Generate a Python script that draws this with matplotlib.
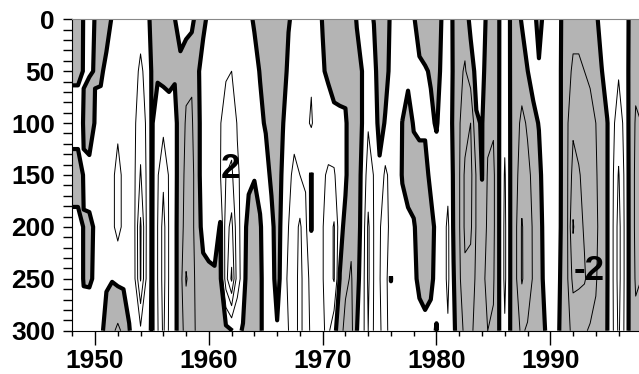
import numpy as np
import matplotlib
matplotlib.use("Agg")
import matplotlib.pyplot as plt

plt.rcParams['font.family'] = ['Liberation Sans', 'DejaVu Sans']

# time axis (half-year nodes) and depth levels
years = np.arange(1948.0, 1998.01, 0.5)
depths = [0, 50, 100, 150, 200, 250, 300]

# anomaly values, one list per depth level
anom_0 = [-1.0, -1.0, 0.1, 0.8, -0.1, -1.0, -0.5, 0.1, 0.5, 0.5,
          0.3, 0.4, 0.6, 0.4, -0.3, -1.0, -0.8, -0.8, -0.05, 0.8,
          0.5, 0.3, -0.5, -0.3, 0.3, 0.5, 0.5, 0.5, 0.4, 0.3,
          0.3, 0.2, -0.1, -0.7, -0.8, -0.9, -0.9, -0.8, -0.1, 0.3,
          0.3, 0.3, 0.4, 0.3, -0.05, -0.6, -0.8, -0.9, -0.9, -0.8,
          0.1, 0.4, 0.5, -0.05, -0.9, -0.6, 0.2, 0.4, 0.3, 0.3,
          0.1, -0.5, -0.8, -0.8, -0.6, 0.1, 0.4, -0.1, -0.5, -0.6,
          0.3, 0.6, 0.5, -0.3, -0.6, -0.02, 0.5, -0.05, -0.5, 0.1,
          0.5, 0.6, -0.6, 0.5, 0.6, 0.5, -0.05, -0.6, -0.8, -0.8,
          -0.7, -0.6, -0.2, 0.4, 0.5, 0.4, 0.4, 0.3, -0.1, -0.6,
          -0.6]
anom_50 = [-0.3, -0.3, 0.05, 0.1, -0.05, -0.2, 0.3, 0.5, 0.5, 0.5,
           0.5, 0.7, 1.2, 0.7, -0.1, -0.2, -0.3, -0.4, -0.1, -0.5,
           -0.8, -0.9, -0.2, 0.5, 0.6, 0.8, 0.8, 0.9, 1.0, 0.7,
           0.6, 0.4, 0.3, -0.05, -0.7, -0.8, -0.8, -0.6, 0.3, 0.5,
           0.5, 0.6, 0.9, 0.5, 0.1, -0.2, -0.6, -0.6, -0.5, -0.8,
           -0.5, 0.05, 0.6, 0.5, -0.8, -0.4, 0.3, 0.5, 0.4, 0.3,
           0.1, 0.2, 0.1, -0.1, -0.5, 0.3, 0.5, -0.1, -0.8, -1.1,
           -0.5, 0.3, 0.3, -0.5, -0.8, -0.02, 0.6, -0.05, -0.6, -0.6,
           -0.02, 0.4, 0.2, 0.6, 0.8, 0.6, -0.1, -0.8, -1.1, -1.1,
           -1.0, -0.9, -0.8, -0.05, 0.5, 0.6, 0.9, 0.5, -0.2, -0.8,
           -0.8]
anom_100 = [0.8, 0.8, -0.1, -0.8, 0.1, 0.5, 0.5, 0.6, 0.8, 0.6,
            0.8, 0.9, 1.6, 0.9, -0.1, 0.7, 0.7, 0.6, 0.3, -0.5,
            -1.1, -1.1, -0.4, 0.6, 0.8, 0.9, 0.95, 1.4, 1.5, 0.95,
            0.8, 0.5, 0.3, 0.2, -0.1, -0.6, -0.7, -0.05, 0.6, 0.7,
            0.7, 0.8, 1.1, 0.6, 0.5, 0.6, 0.4, 0.3, 0.2, -0.8,
            -0.5, 0.05, 0.9, 0.8, -0.5, 0.1, 0.5, 0.6, -0.02, -0.5,
            0.1, 0.3, 0.2, 0.2, -0.1, 0.5, 0.6, -0.2, -0.9, -1.6,
            -2.0, -0.1, 0.05, -0.8, -0.9, -0.02, 0.8, -0.05, -0.7, -1.2,
            -0.9, -0.3, 0.05, 0.6, 0.9, 0.6, -0.1, -0.9, -1.8, -1.6,
            -1.3, -1.2, -1.0, -0.5, -0.05, 0.8, 1.5, 0.8, -0.3, -1.1,
            -1.0]
anom_150 = [-0.8, -0.8, 0.1, 0.5, 0.3, 0.5, 0.8, 0.8, 1.3, 0.8,
            0.8, 0.95, 2.1, 0.95, -0.1, 0.9, 1.8, 0.9, 0.3, -0.5,
            -1.3, -1.3, -0.4, 0.6, 0.9, 0.95, 0.95, 2.0, 2.2, 1.1,
            0.8, 0.3, 0.1, 0.3, 0.4, -0.2, -0.6, 0.2, 0.8, 1.2,
            1.0, 0.9, -0.05, 0.8, 0.9, 1.1, 1.1, 0.5, 0.2, -0.8,
            -0.4, 0.2, 1.5, 0.95, 0.3, 1.2, 0.7, 0.8, -0.1, -0.5,
            -0.5, -0.6, -0.4, 0.3, 0.5, 0.5, 0.7, -0.1, -0.9, -2.2,
            -2.3, -0.9, 0.03, -1.1, -1.2, -0.02, 1.1, -0.05, -0.8, -1.5,
            -1.2, -0.8, -0.3, 0.5, 0.9, 0.6, -0.1, -0.9, -2.4, -2.1,
            -1.7, -1.4, -1.1, -0.6, -0.05, 0.9, 2.1, 0.9, -0.3, -1.2,
            -1.0]
anom_200 = [0.5, 0.5, -0.05, -0.2, 0.1, 0.5, 0.8, 0.8, 1.3, 0.8,
            0.8, 1.0, 3.2, 1.0, -0.1, 1.0, 2.4, 0.9, 0.3, -0.6,
            -1.4, -1.3, -0.4, 0.3, 0.6, 0.6, -0.1, 2.6, 3.3, 1.3,
            0.6, -0.5, -0.8, -0.1, 0.5, 0.3, -0.5, 0.4, 1.0, 1.5,
            2.2, 1.2, -0.05, 0.9, 0.95, 1.5, 2.1, 0.4, -0.3, -0.8,
            -0.4, 0.3, 2.2, 0.95, 0.9, 1.5, 0.6, 0.9, 0.5, 0.3,
            0.1, -0.4, -0.6, -0.4, 0.3, 0.5, 1.2, -0.1, -0.9, -2.2,
            -2.2, -0.9, -0.3, -1.2, -1.2, -0.02, 1.2, -0.05, -0.9, -2.1,
            -1.4, -0.9, -0.4, 0.3, 0.8, 0.5, -0.1, -0.9, -3.1, -2.3,
            -1.9, -1.5, -1.2, -0.6, -0.05, 0.95, 2.4, 0.95, -0.3, -1.2,
            -1.0]
anom_250 = [0.5, 0.5, -0.05, -0.1, 0.1, 0.3, 0.1, 0.05, 0.2, 0.2,
            0.3, 0.95, 3.1, 0.95, -0.1, 1.0, 2.4, 0.9, 0.3, -0.6,
            -2.1, -1.5, -0.5, -0.3, -0.3, -0.2, -0.3, 2.6, 4.2, 1.4,
            0.6, -0.8, -0.9, -0.2, 0.5, 0.4, -0.4, 0.5, 1.2, 1.6,
            2.3, 1.5, 0.6, 1.0, 0.95, 1.5, 2.1, -0.05, -0.8, -1.1,
            -0.3, 0.5, 2.2, 0.95, 0.95, 1.5, -0.03, 0.9, 0.7, 0.6,
            0.3, -0.3, -0.6, -0.2, 0.3, 0.5, 1.2, 0.05, -0.8, -1.8,
            -1.6, -0.8, -0.8, -1.2, -1.1, -0.02, 1.2, -0.05, -0.9, -2.1,
            -1.5, -0.9, -0.4, 0.2, 0.7, 0.5, -0.2, -0.9, -2.3, -2.2,
            -2.1, -1.6, -1.1, -0.5, -0.05, 0.95, 2.4, 0.95, -0.3, -1.1,
            -1.0]
anom_300 = [0.3, 0.3, 0.3, 0.5, 0.3, 0.2, -0.3, -0.8, -1.2, -0.8,
            -0.05, 0.4, 0.8, 0.4, -0.1, 0.9, 2.2, 0.85, 0.3, -0.6,
            -1.4, -1.3, -0.8, -0.8, -0.8, -0.6, -0.6, -0.3, -0.05, 0.3,
            -0.1, -0.9, -0.9, -0.2, 0.5, 0.4, 0.1, 0.5, 1.0, 1.6,
            2.3, 1.5, 0.8, 0.9, 0.9, 1.2, 0.3, -0.6, -1.3, -1.3,
            -0.02, 0.6, 2.0, 0.9, 0.9, 1.3, 0.6, 0.8, 0.6, 0.6,
            0.5, 0.5, 0.4, 0.3, -0.05, 0.5, 0.9, 0.2, -0.6, -1.2,
            -1.2, -0.7, -0.8, -1.0, -0.9, -0.02, 0.9, -0.05, -0.8, -1.1,
            -0.9, -0.8, -0.5, -0.05, 0.5, 0.4, -0.3, -0.8, -1.2, -1.2,
            -1.1, -0.9, -0.8, -0.4, -0.02, 0.9, 2.2, 0.9, -0.3, -0.8,
            -0.8]

field = np.array([anom_0, anom_50, anom_100, anom_150,
                  anom_200, anom_250, anom_300])

fig = plt.figure(figsize=(6.39, 3.74), dpi=100)
ax = fig.add_axes([0.1131, 0.1158, 0.8906, 0.8326])

# negative anomalies shaded grey
ax.contourf(years, depths, field, levels=[-10, 0], colors=['#b4b4b4'])
ax.contour(years, depths, field, levels=[-3, -2, -1, 1, 2, 3, 4],
           colors='black', linewidths=0.7, linestyles='solid')
ax.contour(years, depths, field, levels=[0], colors='black',
           linewidths=3, linestyles='solid')

ax.text(1961.9, 144, '2', fontsize=25, fontweight='bold',
        ha='center', va='center')
ax.text(1993.4, 242, '-2', fontsize=25, fontweight='bold',
        ha='center', va='center')

ax.set_xlim(1948, 1998)
ax.set_ylim(300, 0)
ax.set_xticks(np.arange(1950, 1991, 10))
ax.set_xticks(np.arange(1948, 1999, 2), minor=True)
ax.set_yticks(np.arange(0, 301, 50))
ax.set_yticks(np.arange(0, 301, 10), minor=True)

ax.tick_params(axis='both', which='both', direction='out', width=1)
ax.tick_params(axis='x', which='major', length=10, pad=3, labelsize=19)
ax.tick_params(axis='x', which='minor', length=3.6)
ax.tick_params(axis='y', which='both', length=6.5)
ax.tick_params(axis='y', which='major', pad=6, labelsize=19)
for lab in ax.get_xticklabels() + ax.get_yticklabels():
    lab.set_fontweight('bold')

ax.spines['top'].set_color('#888888')
ax.spines['right'].set_visible(False)

fig.savefig('out.png', dpi=100)
